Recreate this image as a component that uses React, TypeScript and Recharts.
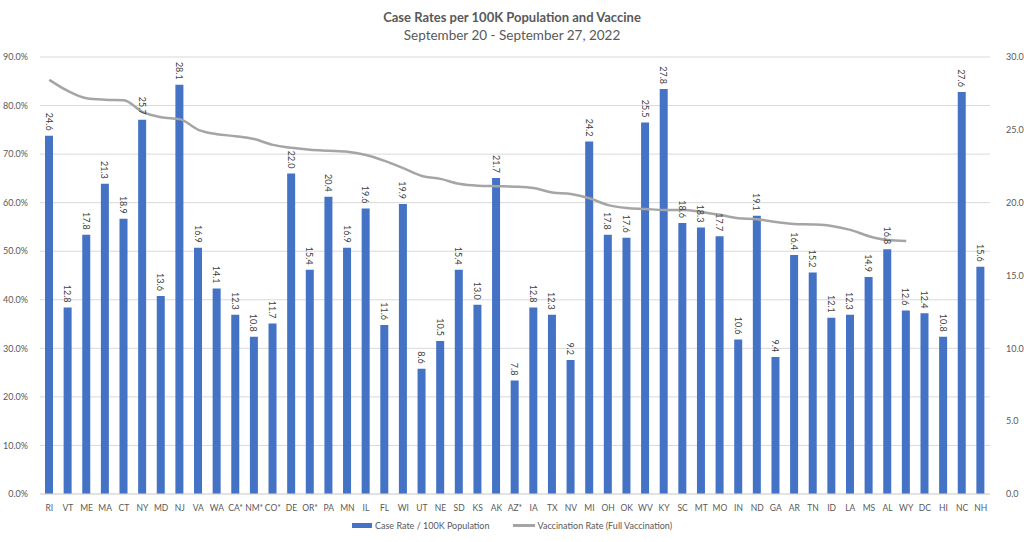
import React from "react";
import { ComposedChart, Bar, Line, XAxis, YAxis, CartesianGrid, LabelList, Legend } from "recharts";

const states = [
  "RI", "VT", "ME", "MA", "CT", "NY", "MD", "NJ", "VA", "WA", "CA*", "NM*", "CO*", "DE", "OR*", "PA", "MN",
  "IL", "FL", "WI", "UT", "NE", "SD", "KS", "AK", "AZ*", "IA", "TX", "NV", "MI", "OH", "OK", "WV", "KY",
  "SC", "MT", "MO", "IN", "ND", "GA", "AR", "TN", "ID", "LA", "MS", "AL", "WY", "DC", "HI", "NC", "NH",
];

const caseRates = [
  24.6, 12.8, 17.8, 21.3, 18.9, 25.7, 13.6, 28.1, 16.9, 14.1, 12.3, 10.8, 11.7, 22.0, 15.4, 20.4, 16.9,
  19.6, 11.6, 19.9, 8.6, 10.5, 15.4, 13.0, 21.7, 7.8, 12.8, 12.3, 9.2, 24.2, 17.8, 17.6, 25.5, 27.8,
  18.6, 18.3, 17.7, 10.6, 19.1, 9.4, 16.4, 15.2, 12.1, 12.3, 14.9, 16.8, 12.6, 12.4, 10.8, 27.6, 15.6,
];

// full vaccination share; no value for the last four states
const vaxRates: (number | null)[] = [
  0.853, 0.83, 0.815, 0.812, 0.811, 0.787, 0.776, 0.772, 0.75, 0.741, 0.737, 0.731, 0.719, 0.713, 0.709, 0.707, 0.705,
  0.698, 0.686, 0.671, 0.655, 0.649, 0.639, 0.635, 0.634, 0.633, 0.63, 0.621, 0.618, 0.609, 0.595, 0.589, 0.587, 0.585,
  0.585, 0.581, 0.575, 0.568, 0.566, 0.56, 0.556, 0.555, 0.552, 0.544, 0.531, 0.523, 0.521, null, null, null, null,
];

const pctTicks = [0, 0.1, 0.2, 0.3, 0.4, 0.5, 0.6, 0.7, 0.8, 0.9];
const rateTicks = [0, 5, 10, 15, 20, 25, 30];

const data = states.map((s, i) => ({ state: s, cases: caseRates[i], vax: vaxRates[i] }));

const FONT = "Lato, 'Open Sans', sans-serif";
const TXT = "#595959";

const RotatedLabel = (props: any) => {
  const { x, y, width, value } = props;
  const cx = x + width / 2;
  const ty = y - 5;
  return (
    <text
      x={cx}
      y={ty}
      transform={`rotate(90, ${cx}, ${ty})`}
      textAnchor="end"
      dominantBaseline="central"
      fontSize={9}
      fontFamily={FONT}
      fill="#404040"
    >
      {Number(value).toFixed(1)}
    </text>
  );
};

const renderLegend = () => (
  <div style={{ display: "flex", justifyContent: "center", alignItems: "center", fontFamily: FONT, fontSize: 9, color: TXT }}>
    <span style={{ display: "inline-block", width: 20, height: 5, background: "#4472C4", marginRight: 3 }} />
    <span style={{ marginRight: 24 }}>Case Rate / 100K Population</span>
    <span style={{ display: "inline-block", width: 22, height: 2.5, background: "#A5A5A5", marginRight: 2 }} />
    <span>Vaccination Rate (Full Vaccination)</span>
  </div>
);

export default function App() {
  return (
    <div style={{ position: "absolute", left: 0, top: 0, width: 1024, height: 542, background: "#fff" }}>
      <div style={{ position: "absolute", top: 9, width: 1024, textAlign: "center", fontFamily: FONT, color: TXT }}>
        <div style={{ fontSize: 13, fontWeight: 700, lineHeight: "17px" }}>Case Rates per 100K Population and Vaccine</div>
        <div style={{ fontSize: 13.5, lineHeight: "19px" }}>September 20 - September 27, 2022</div>
      </div>
      <ComposedChart
        width={1024}
        height={542}
        data={data}
        margin={{ top: 57, right: 0, bottom: 4, left: 0 }}
        barCategoryGap={0}
      >
        <CartesianGrid yAxisId="pct" vertical={false} stroke="#D9D9D9" />
        <XAxis
          dataKey="state"
          interval={0}
          tickLine={false}
          axisLine={{ stroke: "#D9D9D9" }}
          height={22}
          tick={{ fontSize: 8.5, fill: TXT, fontFamily: FONT }}
          tickMargin={5}
        />
        <YAxis
          yAxisId="pct"
          orientation="left"
          domain={[0, 0.9]}
          ticks={pctTicks}
          width={40}
          tickLine={false}
          axisLine={false}
          tickMargin={6}
          tick={{ fontSize: 9, fill: TXT, fontFamily: FONT }}
          tickFormatter={(v: number) => `${(v * 100).toFixed(1)}%`}
        />
        <YAxis
          yAxisId="rate"
          orientation="right"
          domain={[0, 30]}
          ticks={rateTicks}
          width={34}
          tickLine={false}
          axisLine={false}
          tickMargin={10}
          tick={{ fontSize: 9, fill: TXT, fontFamily: FONT }}
          tickFormatter={(v: number) => v.toFixed(1)}
        />
        <Bar yAxisId="rate" dataKey="cases" fill="#4472C4" barSize={8} isAnimationActive={false}>
          <LabelList dataKey="cases" content={RotatedLabel} />
        </Bar>
        <Line
          yAxisId="pct"
          dataKey="vax"
          type="monotone"
          stroke="#A5A5A5"
          strokeWidth={2.5}
          dot={false}
          connectNulls={false}
          isAnimationActive={false}
        />
        <Legend verticalAlign="bottom" height={22} content={renderLegend} wrapperStyle={{ bottom: 0 }} />
      </ComposedChart>
    </div>
  );
}
